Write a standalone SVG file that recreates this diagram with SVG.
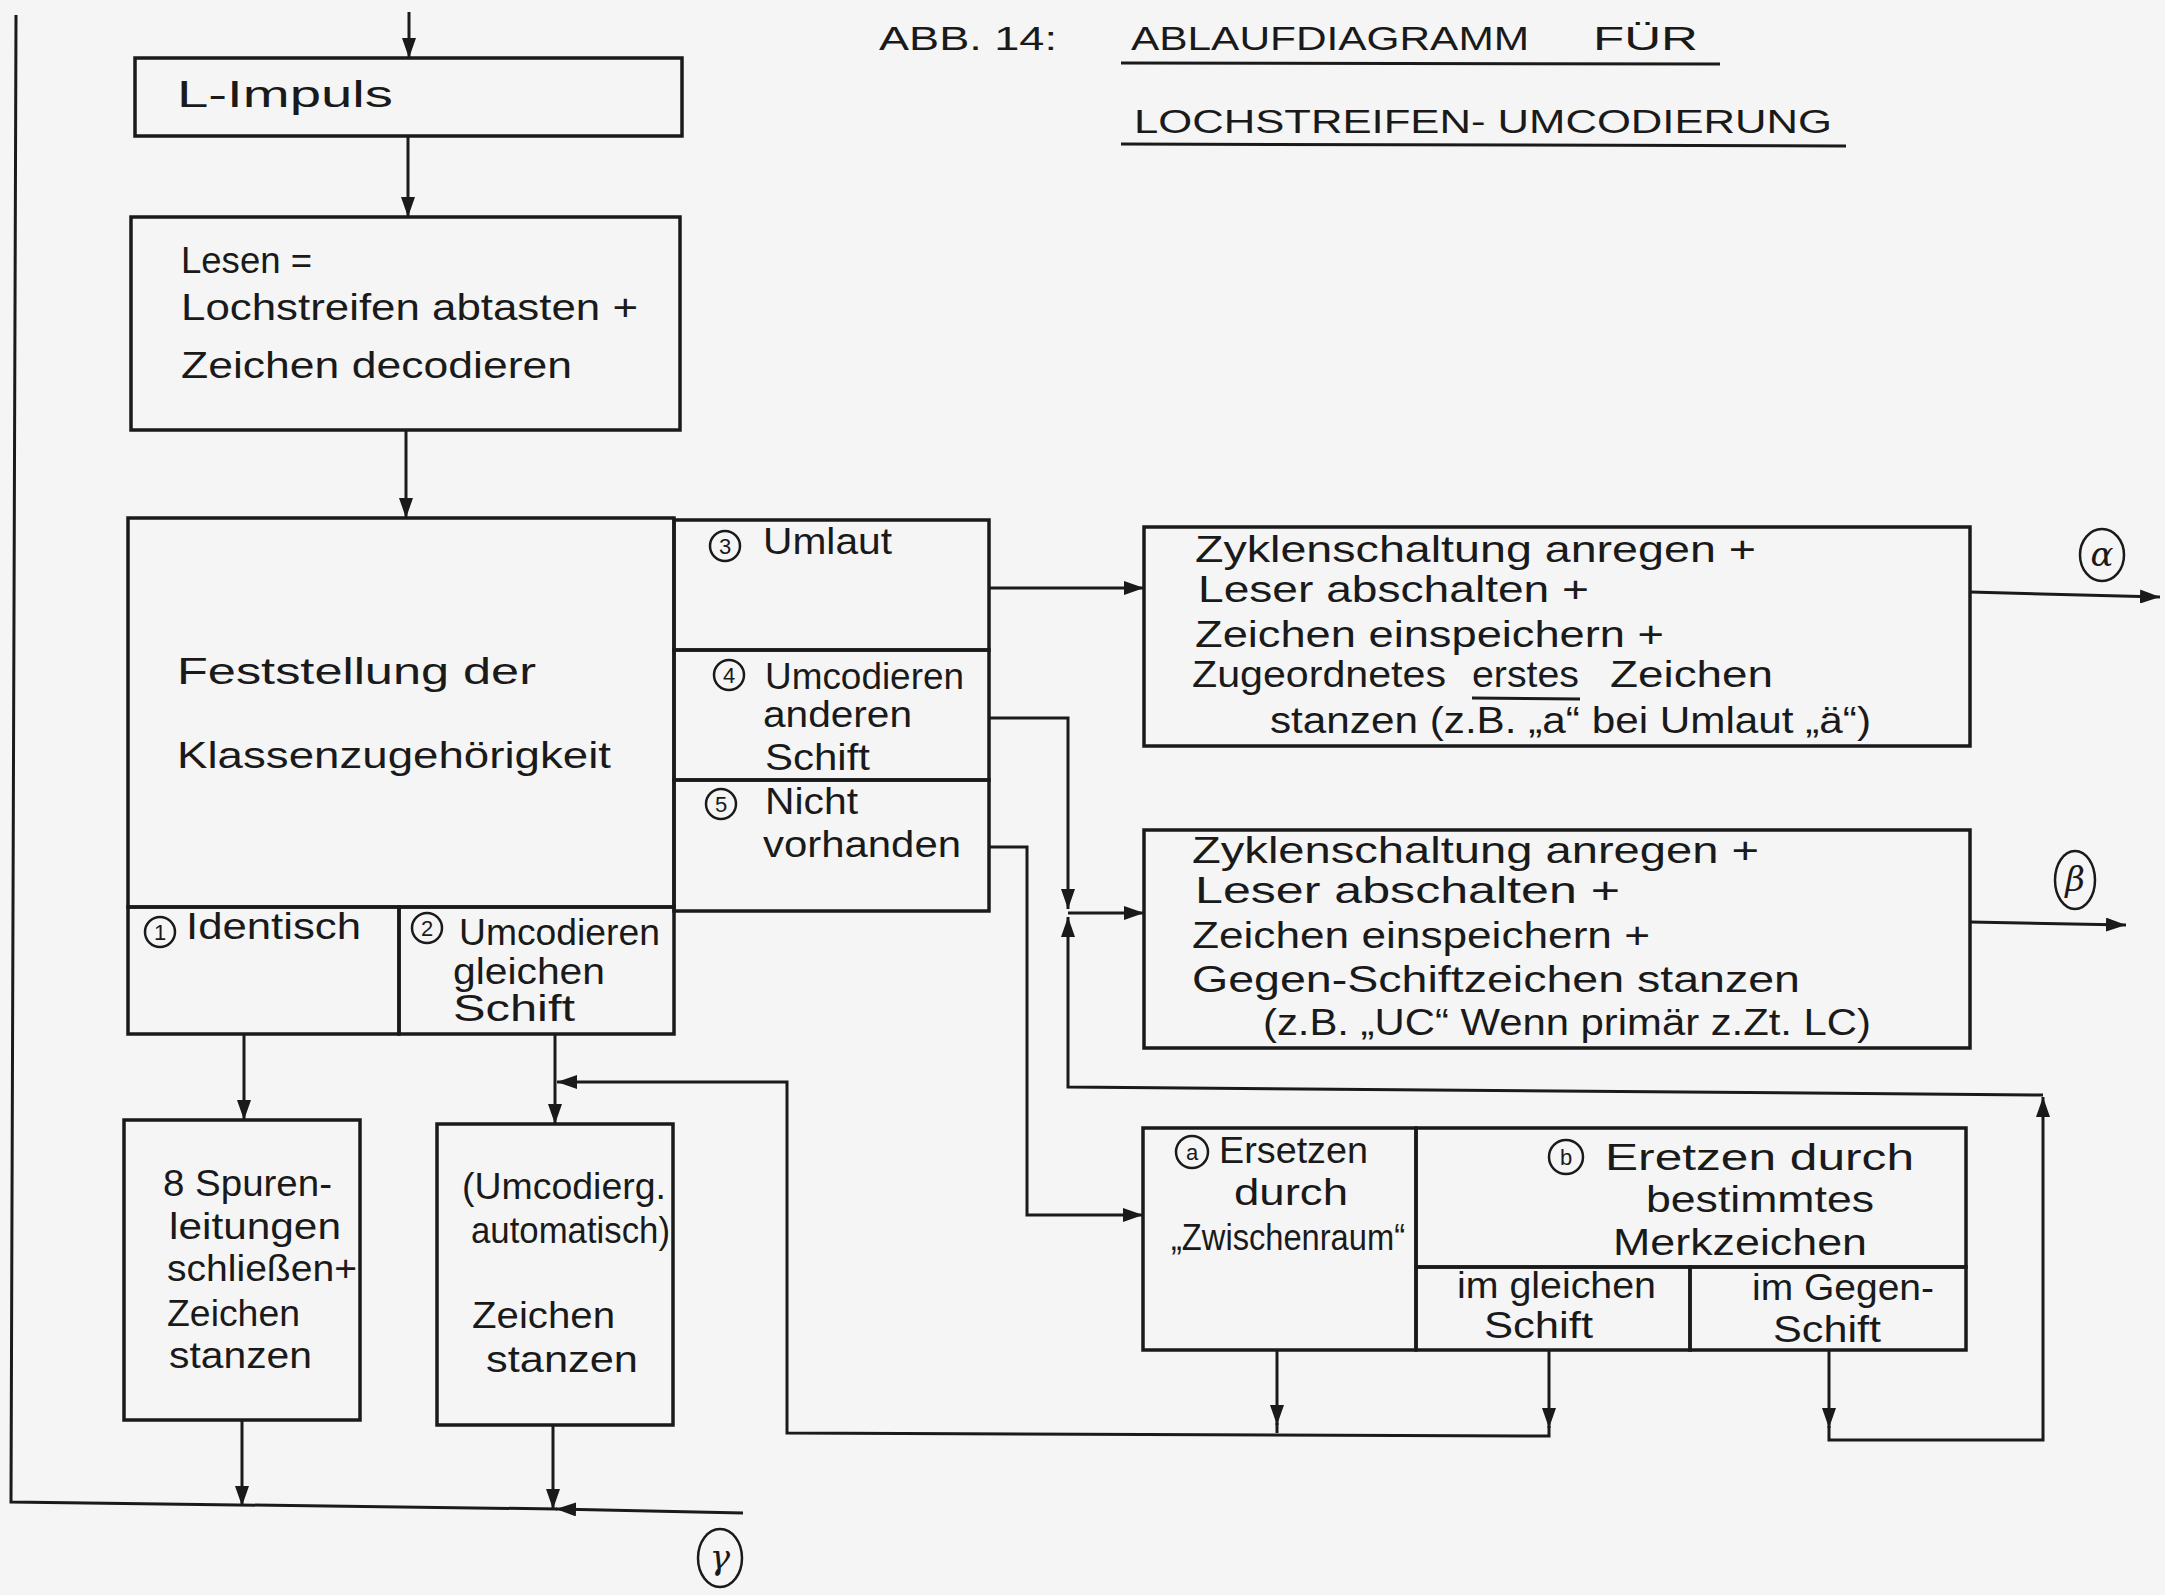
<svg xmlns="http://www.w3.org/2000/svg" width="2165" height="1595" viewBox="0 0 2165 1595">
<defs>
<style>
.bx{fill:none;stroke:#1a1a1a;stroke-width:3.5;stroke-linejoin:miter}
.ln{fill:none;stroke:#1a1a1a;stroke-width:3}
.ar{marker-end:url(#arr)}
.t{font-family:"Liberation Sans",Arial,sans-serif;font-size:36px;fill:#1a1a1a}
.ti{font-family:"Liberation Sans",Arial,sans-serif;font-size:34px;fill:#1a1a1a}
.cn{font-family:"Liberation Sans",Arial,sans-serif;font-size:22px;fill:#1a1a1a;text-anchor:middle}
.gr{font-family:"DejaVu Serif",serif;font-size:34px;fill:#1a1a1a;text-anchor:middle;font-style:italic}
.cc{fill:none;stroke:#1a1a1a;stroke-width:2.5}
</style>
<marker id="arr" viewBox="0 0 20 14" refX="20" refY="7" markerWidth="20" markerHeight="14" markerUnits="userSpaceOnUse" orient="auto">
<path d="M0,0 L20,7 L0,14 z" fill="#1a1a1a"/>
</marker>
</defs>
<rect x="0" y="0" width="2165" height="1595" fill="#f5f5f5"/>

<g id="title">
<text class="ti" x="879" y="50" textLength="178" lengthAdjust="spacingAndGlyphs">ABB. 14:</text>
<text class="ti" x="1131" y="50" textLength="398" lengthAdjust="spacingAndGlyphs">ABLAUFDIAGRAMM</text>
<text class="ti" x="1593" y="50" textLength="105" lengthAdjust="spacingAndGlyphs">FÜR</text>
<line class="ln" x1="1121" y1="63" x2="1720" y2="64"/>
<text class="ti" x="1134" y="133" textLength="698" lengthAdjust="spacingAndGlyphs">LOCHSTREIFEN- UMCODIERUNG</text>
<line class="ln" x1="1121" y1="144" x2="1846" y2="146"/>
</g>

<g id="n-limpuls">
<rect class="bx" x="135" y="58" width="547" height="78"/>
<text class="t" x="177" y="107" textLength="216" lengthAdjust="spacingAndGlyphs">L-Impuls</text>
</g>

<g id="n-lesen">
<rect class="bx" x="131" y="217" width="549" height="213"/>
<text class="t" x="181" y="273" textLength="131" lengthAdjust="spacingAndGlyphs">Lesen =</text>
<text class="t" x="181" y="320" textLength="457" lengthAdjust="spacingAndGlyphs">Lochstreifen abtasten +</text>
<text class="t" x="181" y="378" textLength="391" lengthAdjust="spacingAndGlyphs">Zeichen decodieren</text>
</g>

<g id="n-feststellung">
<rect class="bx" x="128" y="518" width="546" height="389"/>
<text class="t" x="177" y="684" textLength="359" lengthAdjust="spacingAndGlyphs">Feststellung der</text>
<text class="t" x="177" y="768" textLength="434" lengthAdjust="spacingAndGlyphs">Klassenzugehörigkeit</text>
</g>

<g id="n-identisch">
<rect class="bx" x="128" y="907" width="271" height="127"/>
<circle class="cc" cx="160" cy="932" r="15"/>
<text class="cn" x="160" y="940">1</text>
<text class="t" x="186" y="939" textLength="175" lengthAdjust="spacingAndGlyphs">Identisch</text>
</g>

<g id="n-umcod-gleich">
<rect class="bx" x="399" y="907" width="275" height="127"/>
<circle class="cc" cx="427" cy="928" r="15"/>
<text class="cn" x="427" y="936">2</text>
<text class="t" x="459" y="945" textLength="201" lengthAdjust="spacingAndGlyphs">Umcodieren</text>
<text class="t" x="453" y="984" textLength="152" lengthAdjust="spacingAndGlyphs">gleichen</text>
<text class="t" x="453" y="1021" textLength="122" lengthAdjust="spacingAndGlyphs">Schift</text>
</g>

<g id="n-umlaut">
<rect class="bx" x="674" y="520" width="315" height="130"/>
<circle class="cc" cx="725" cy="546" r="15"/>
<text class="cn" x="725" y="554">3</text>
<text class="t" x="763" y="554" textLength="129" lengthAdjust="spacingAndGlyphs">Umlaut</text>
</g>

<g id="n-umcod-ander">
<rect class="bx" x="674" y="650" width="315" height="130"/>
<circle class="cc" cx="729" cy="675" r="15"/>
<text class="cn" x="729" y="683">4</text>
<text class="t" x="765" y="689" textLength="199" lengthAdjust="spacingAndGlyphs">Umcodieren</text>
<text class="t" x="763" y="727" textLength="149" lengthAdjust="spacingAndGlyphs">anderen</text>
<text class="t" x="765" y="770" textLength="105" lengthAdjust="spacingAndGlyphs">Schift</text>
</g>

<g id="n-nicht">
<rect class="bx" x="674" y="780" width="315" height="131"/>
<circle class="cc" cx="721" cy="804" r="15"/>
<text class="cn" x="721" y="812">5</text>
<text class="t" x="765" y="814" textLength="93" lengthAdjust="spacingAndGlyphs">Nicht</text>
<text class="t" x="763" y="857" textLength="198" lengthAdjust="spacingAndGlyphs">vorhanden</text>
</g>

<g id="n-alpha-box">
<rect class="bx" x="1144" y="527" width="826" height="219"/>
<text class="t" x="1195" y="562" textLength="561" lengthAdjust="spacingAndGlyphs">Zyklenschaltung anregen +</text>
<text class="t" x="1198" y="602" textLength="391" lengthAdjust="spacingAndGlyphs">Leser abschalten +</text>
<text class="t" x="1195" y="647" textLength="469" lengthAdjust="spacingAndGlyphs">Zeichen einspeichern +</text>
<text class="t" x="1192" y="687" textLength="254" lengthAdjust="spacingAndGlyphs">Zugeordnetes</text>
<text class="t" x="1472" y="687" textLength="107" lengthAdjust="spacingAndGlyphs">erstes</text>
<line class="ln" x1="1472" y1="698" x2="1580" y2="699"/>
<text class="t" x="1610" y="687" textLength="163" lengthAdjust="spacingAndGlyphs">Zeichen</text>
<text class="t" x="1270" y="733" textLength="601" lengthAdjust="spacingAndGlyphs">stanzen (z.B. „a“ bei Umlaut „ä“)</text>
</g>

<g id="n-alpha">
<ellipse class="cc" cx="2102" cy="555" rx="22" ry="26"/>
<text class="gr" x="2102" y="566">α</text>
</g>

<g id="n-beta-box">
<rect class="bx" x="1144" y="830" width="826" height="218"/>
<text class="t" x="1192" y="863" textLength="567" lengthAdjust="spacingAndGlyphs">Zyklenschaltung anregen +</text>
<text class="t" x="1195" y="903" textLength="425" lengthAdjust="spacingAndGlyphs">Leser abschalten +</text>
<text class="t" x="1192" y="948" textLength="458" lengthAdjust="spacingAndGlyphs">Zeichen einspeichern +</text>
<text class="t" x="1192" y="992" textLength="608" lengthAdjust="spacingAndGlyphs">Gegen-Schiftzeichen stanzen</text>
<text class="t" x="1263" y="1035" textLength="608" lengthAdjust="spacingAndGlyphs">(z.B. „UC“ Wenn primär z.Zt. LC)</text>
</g>

<g id="n-beta">
<ellipse class="cc" cx="2075" cy="880" rx="20" ry="29"/>
<text class="gr" x="2075" y="891">β</text>
</g>

<g id="n-ersetzen-a">
<rect class="bx" x="1143" y="1128" width="273" height="222"/>
<circle class="cc" cx="1192" cy="1152" r="16"/>
<text class="cn" x="1192" y="1160">a</text>
<text class="t" x="1219" y="1163" textLength="149" lengthAdjust="spacingAndGlyphs">Ersetzen</text>
<text class="t" x="1234" y="1205" textLength="114" lengthAdjust="spacingAndGlyphs">durch</text>
<text class="t" x="1171" y="1250" textLength="234" lengthAdjust="spacingAndGlyphs">„Zwischenraum“</text>
</g>

<g id="n-ersetzen-b">
<rect class="bx" x="1416" y="1128" width="550" height="139"/>
<circle class="cc" cx="1566" cy="1157" r="17"/>
<text class="cn" x="1566" y="1165">b</text>
<text class="t" x="1605" y="1170" textLength="309" lengthAdjust="spacingAndGlyphs">Eretzen durch</text>
<text class="t" x="1646" y="1212" textLength="228" lengthAdjust="spacingAndGlyphs">bestimmtes</text>
<text class="t" x="1613" y="1255" textLength="254" lengthAdjust="spacingAndGlyphs">Merkzeichen</text>
</g>

<g id="n-gleich-schift">
<rect class="bx" x="1416" y="1267" width="274" height="83"/>
<text class="t" x="1457" y="1298" textLength="199" lengthAdjust="spacingAndGlyphs">im gleichen</text>
<text class="t" x="1484" y="1338" textLength="109" lengthAdjust="spacingAndGlyphs">Schift</text>
</g>

<g id="n-gegen-schift">
<rect class="bx" x="1690" y="1267" width="276" height="83"/>
<text class="t" x="1752" y="1300" textLength="182" lengthAdjust="spacingAndGlyphs">im Gegen-</text>
<text class="t" x="1773" y="1342" textLength="108" lengthAdjust="spacingAndGlyphs">Schift</text>
</g>

<g id="n-8spuren">
<rect class="bx" x="124" y="1120" width="236" height="300"/>
<text class="t" x="163" y="1196" textLength="169" lengthAdjust="spacingAndGlyphs">8 Spuren-</text>
<text class="t" x="169" y="1239" textLength="172" lengthAdjust="spacingAndGlyphs">leitungen</text>
<text class="t" x="167" y="1281" textLength="190" lengthAdjust="spacingAndGlyphs">schließen+</text>
<text class="t" x="167" y="1326" textLength="133" lengthAdjust="spacingAndGlyphs">Zeichen</text>
<text class="t" x="169" y="1368" textLength="143" lengthAdjust="spacingAndGlyphs">stanzen</text>
</g>

<g id="n-umcodierg">
<rect class="bx" x="437" y="1124" width="236" height="301"/>
<text class="t" x="462" y="1199" textLength="204" lengthAdjust="spacingAndGlyphs">(Umcodierg.</text>
<text class="t" x="471" y="1243" textLength="199" lengthAdjust="spacingAndGlyphs">automatisch)</text>
<text class="t" x="472" y="1328" textLength="143" lengthAdjust="spacingAndGlyphs">Zeichen</text>
<text class="t" x="486" y="1372" textLength="152" lengthAdjust="spacingAndGlyphs">stanzen</text>
</g>

<g id="n-gamma">
<ellipse class="cc" cx="720" cy="1558" rx="22" ry="29"/>
<text class="gr" x="720" y="1569">γ</text>
</g>

<g id="connectors">
<path class="ln ar" d="M409,12 L409,58"/>
<path class="ln ar" d="M408,136 L408,217"/>
<path class="ln ar" d="M406,430 L406,518"/>
<path class="ln ar" d="M989,588 L1144,588"/>
<path class="ln ar" d="M1970,592 L2160,597"/>
<path class="ln ar" d="M1970,922 L2126,925"/>
<path class="ln ar" d="M989,718 L1068,718 L1068,909"/>
<path class="ln ar" d="M1068,913 L1144,913"/>
<path class="ln ar" d="M2043,1095 L1068,1087 L1068,917"/>
<path class="ln ar" d="M1829,1350 L1829,1428"/>
<path class="ln ar" d="M1829,1426 L1829,1440 L2043,1440 L2043,1097"/>
<path class="ln ar" d="M989,847 L1027,847 L1027,1215 L1143,1215"/>
<path class="ln ar" d="M1277,1350 L1277,1425"/>
<path class="ln" d="M1277,1423 L1277,1433"/>
<path class="ln ar" d="M1549,1350 L1549,1428"/>
<path class="ln ar" d="M1549,1426 L1549,1436 L787,1433 L787,1082 L557,1082"/>
<path class="ln ar" d="M244,1034 L244,1120"/>
<path class="ln ar" d="M555,1034 L555,1124"/>
<path class="ln ar" d="M242,1420 L242,1506"/>
<path class="ln ar" d="M553,1425 L553,1509"/>
<path class="ln ar" d="M743,1513 L556,1509"/>
<path class="ln" d="M557,1509 L11,1502 L16,15"/>
</g>
</svg>
